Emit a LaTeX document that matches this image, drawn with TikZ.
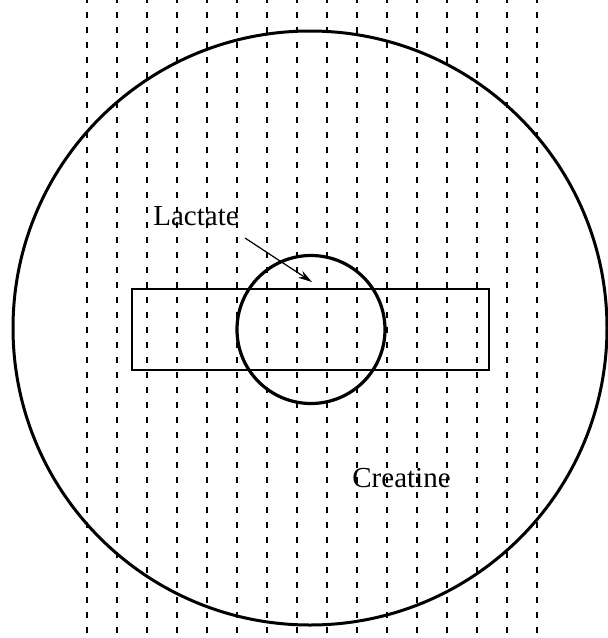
\documentclass[tikz,border=0pt]{standalone}
\usepackage{fontspec}
\setmainfont{Liberation Serif}
\usetikzlibrary{arrows.meta}

\tikzset{
grid line/.style={line width=1.1pt,dash pattern=on 3.2pt off 4.3pt,dash phase=-6pt},
label text/.style={font=\fontsize{14.5}{16}\selectfont,inner sep=0pt}
}

\begin{document}
\begin{tikzpicture}[x=0.5pt,y=-0.5pt]
\useasboundingbox (0,0) rectangle (608,638);

% vertical sampling lines
\foreach \i in {0,...,15}
\draw[grid line] (87+30*\i,0) -- (87+30*\i,638);

% head and slab
\draw[line width=1.5pt] (310,328) circle (297);
\draw[line width=.7pt] (132,289) rectangle (489,370);
\draw[line width=1.6pt] (311,329.5) circle (74);

% labels
\node[label text,anchor=base west] (lac) at (153,225) {Lactate};
\node[label text,anchor=base west] (cre) at (352,487) {Creatine};
\coordinate (lactip) at (312,282);
\draw[line width=.6pt,-{Stealth[length=7pt,width=4pt]}] (245,238) -- (lactip);

\end{tikzpicture}
\end{document}
